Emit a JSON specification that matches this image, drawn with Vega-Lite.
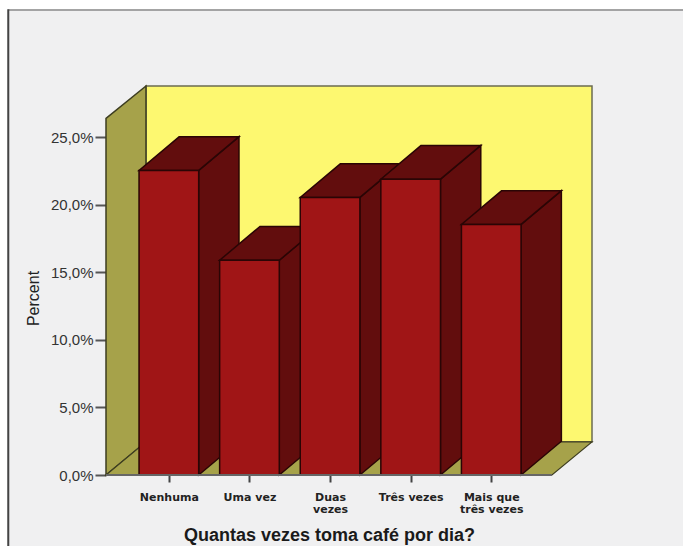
{
"$schema":"https://vega.github.io/schema/vega-lite/v6.json",
"width":486,"height":389,
"autosize":{"type":"none"},
"padding":{"left":106,"top":86,"right":91,"bottom":71},
"background":"#f0f0f1",
"config":{"view":{"stroke":null}},
"datasets":{
"white":[{"x":-1.2,"x2":7.5,"y":34.48,"y2":36},{"x":-1.2,"x2":-1.005,"y":-6,"y2":36}],
"topline":[{"x":-0.99,"x2":7.5,"y":34.37,"y2":34.48}],
"leftline":[{"x":-1.005,"x2":-0.98,"y":-6,"y2":34.48}],
"back":[{"x":0.716,"x2":6.25,"y":2.45,"y2":28.8}],
"wall":[{"x":0.22,"y":0,"y2":26.4},{"x":0.716,"y":2.45,"y2":28.8}],
"floor":[{"y":0,"x":0.22,"x2":5.753},{"y":2.45,"x":0.716,"x2":6.25}],
"sides":[
{"bar":"Nenhuma","x":1.37,"y":0,"y2":22.55},{"bar":"Nenhuma","x":1.87,"y":2.5,"y2":25.05},
{"bar":"Uma vez","x":2.37,"y":0,"y2":15.9},{"bar":"Uma vez","x":2.87,"y":2.5,"y2":18.4},
{"bar":"Duas vezes","x":3.37,"y":0,"y2":20.55},{"bar":"Duas vezes","x":3.87,"y":2.5,"y2":23.05},
{"bar":"Três vezes","x":4.37,"y":0,"y2":21.9},{"bar":"Três vezes","x":4.87,"y":2.5,"y2":24.4},
{"bar":"Mais que três vezes","x":5.37,"y":0,"y2":18.55},{"bar":"Mais que três vezes","x":5.87,"y":2.5,"y2":21.05}],
"tops":[
{"bar":"Nenhuma","y":22.55,"x":0.63,"x2":1.37},{"bar":"Nenhuma","y":25.05,"x":1.13,"x2":1.87},
{"bar":"Uma vez","y":15.9,"x":1.63,"x2":2.37},{"bar":"Uma vez","y":18.4,"x":2.13,"x2":2.87},
{"bar":"Duas vezes","y":20.55,"x":2.63,"x2":3.37},{"bar":"Duas vezes","y":23.05,"x":3.13,"x2":3.87},
{"bar":"Três vezes","y":21.9,"x":3.63,"x2":4.37},{"bar":"Três vezes","y":24.4,"x":4.13,"x2":4.87},
{"bar":"Mais que três vezes","y":18.55,"x":4.63,"x2":5.37},{"bar":"Mais que três vezes","y":21.05,"x":5.13,"x2":5.87}],
"fronts":[
{"bar":"Nenhuma","x":0.63,"x2":1.37,"y":0,"y2":22.55},
{"bar":"Uma vez","x":1.63,"x2":2.37,"y":0,"y2":15.9},
{"bar":"Duas vezes","x":2.63,"x2":3.37,"y":0,"y2":20.55},
{"bar":"Três vezes","x":3.63,"x2":4.37,"y":0,"y2":21.9},
{"bar":"Mais que três vezes","x":4.63,"x2":5.37,"y":0,"y2":18.55}],
"baseline":[{"x":0.22,"x2":5.753,"y":0}]
},
"encoding":{
"x":{"field":"x","type":"quantitative","scale":{"domain":[0.22,6.25],"nice":false,"zero":false},
"axis":{"title":"Quantas vezes toma café por dia?","titleFont":"Liberation Sans","titleFontSize":18,"titleFontWeight":"bold","titleColor":"#1a1a1a","titleX":223,"titleY":65,"titleAlign":"center","titleBaseline":"alphabetic",
"grid":false,"domain":false,"values":[1,2,3,4,5],"tickColor":"#444444","tickWidth":2,"tickSize":7,
"labelFont":"DejaVu Sans","labelFontWeight":"bold","labelFontSize":11,"labelColor":"#222222","labelPadding":9,"labelLineHeight":12,"labelOverlap":false,"labelFlush":false,"labelBound":false,
"labelExpr":"datum.value==1?'Nenhuma':datum.value==2?'Uma vez':datum.value==3?['Duas','vezes']:datum.value==4?'Três vezes':['Mais que','três vezes']"}},
"y":{"field":"y","type":"quantitative","scale":{"domain":[0,28.8],"nice":false},
"axis":{"title":"Percent","titleFont":"Liberation Sans","titleFontSize":16,"titleFontWeight":"normal","titleColor":"#222222","titleX":-65,"titleY":212,"titleAlign":"center",
"grid":false,"values":[0,5,10,15,20,25],"domain":false,"tickColor":"#555555","tickWidth":2,"tickSize":11,
"labelFont":"Liberation Sans","labelFontSize":15,"labelColor":"#333333","labelPadding":2,
"labelExpr":"replace(format(datum.value,'.1f'),'.',',')+'%'"}}
},
"layer":[
{"data":{"name":"white"},"mark":{"type":"rect","fill":"#ffffff"},"encoding":{"x2":{"field":"x2"},"y2":{"field":"y2"}}},
{"data":{"name":"topline"},"mark":{"type":"rect","fill":"#8a8a8a"},"encoding":{"x2":{"field":"x2"},"y2":{"field":"y2"}}},
{"data":{"name":"leftline"},"mark":{"type":"rect","fill":"#444444"},"encoding":{"x2":{"field":"x2"},"y2":{"field":"y2"}}},
{"data":{"name":"back"},"mark":{"type":"rect","fill":"#fdf870","stroke":"#6b6b50","strokeWidth":1.5},"encoding":{"x2":{"field":"x2"},"y2":{"field":"y2"}}},
{"data":{"name":"wall"},"mark":{"type":"area","fill":"#a6a24a","stroke":"#3d3d20","strokeWidth":1.5},"encoding":{"y2":{"field":"y2"}}},
{"data":{"name":"floor"},"mark":{"type":"area","orient":"horizontal","fill":"#a6a24a","stroke":"#3d3d20","strokeWidth":1.2},"encoding":{"x2":{"field":"x2"}}},
{"data":{"name":"sides"},"mark":{"type":"area","fill":"#620d0d","stroke":"#2a0505","strokeWidth":1.5},"encoding":{"y2":{"field":"y2"},"detail":{"field":"bar"}}},
{"data":{"name":"tops"},"mark":{"type":"area","orient":"horizontal","fill":"#620d0d","stroke":"#2a0505","strokeWidth":1.5},"encoding":{"x2":{"field":"x2"},"detail":{"field":"bar"}}},
{"data":{"name":"fronts"},"mark":{"type":"rect","fill":"#a01516","stroke":"#2a0505","strokeWidth":1.5},"encoding":{"x2":{"field":"x2"},"y2":{"field":"y2"}}},
{"data":{"name":"baseline"},"mark":{"type":"rule","color":"#666666","strokeWidth":2},"encoding":{"x2":{"field":"x2"}}}
]
}
